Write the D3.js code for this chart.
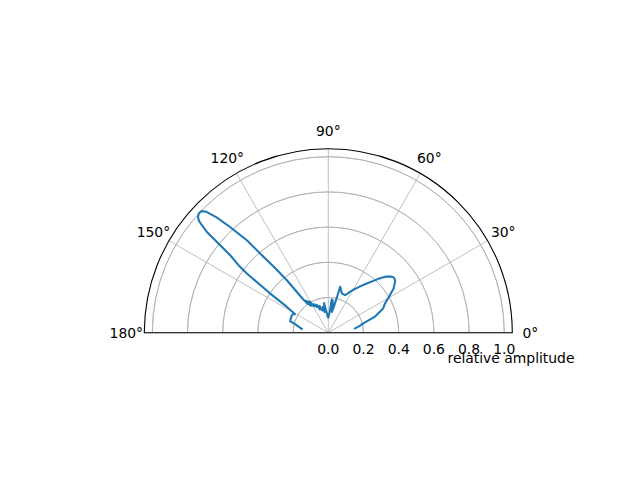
<!DOCTYPE html>
<html>
<head>
<meta charset="utf-8">
<script src="https://cdn.jsdelivr.net/npm/d3@7"></script>
<style>
  body { margin: 0; background: white; }
  text { font-family: "DejaVu Sans", sans-serif; font-size: 13.9px; fill: black; }
</style>
</head>
<body>
<div id="chart"></div>
<script>
// angle in degrees, relative amplitude
var angles = [9, 12, 15, 19, 24, 27, 30, 34, 38, 40, 41.5, 44, 46.5, 49, 52, 55, 57.5, 60, 62, 64,
    66, 69, 71, 73, 75.5, 76.5, 78, 80, 82, 83, 84, 86, 88, 90, 92, 94, 96, 98, 100, 102,
    104, 106, 108, 110, 112, 114, 116, 118, 119.5, 120.5, 121.5, 122.5, 123.5, 124.5, 125.5, 127, 128.3, 129.5, 130.5, 131.4,
    132.9, 134.1, 135.2, 136.2, 137.4, 138.4, 139.2, 140.3, 141.7, 143, 144, 146, 148, 150, 151, 152.5, 154, 156, 160, 163.5,
    164.5, 166, 168, 170, 172]
var amplitude = [0.154, 0.18, 0.206, 0.28, 0.342, 0.36, 0.393, 0.447, 0.483, 0.487, 0.481, 0.46, 0.426, 0.39, 0.355, 0.325, 0.30, 0.28, 0.264, 0.245,
    0.234, 0.235, 0.236, 0.25, 0.27, 0.20, 0.15, 0.12, 0.185, 0.15, 0.19, 0.12, 0.10, 0.085, 0.09, 0.11, 0.13, 0.17, 0.12, 0.15,
    0.13, 0.135, 0.16, 0.14, 0.17, 0.16, 0.18, 0.17, 0.19, 0.205, 0.18, 0.21, 0.185, 0.22, 0.20, 0.24, 0.38, 0.48, 0.568, 0.70,
    0.82, 0.912, 0.975, 0.998, 1.0, 0.99, 0.97, 0.898, 0.712, 0.64, 0.574, 0.40, 0.279, 0.23, 0.217, 0.228, 0.229, 0.229, 0.228, 0.226,
    0.206, 0.19, 0.175, 0.163, 0.152]

var rTicks = [0.0, 0.2, 0.4, 0.6, 0.8, 1.0]
var thetaTicks = [0, 30, 60, 90, 120, 150, 180]

var width = 640, height = 478
var cx = 328.3, cy = 332.7, R = 184

var svg = d3.select("#chart")
    .append("svg")
    .attr("width", width)
    .attr("height", height)

var g = svg.append("g")
    .attr("transform", "translate(" + cx + "," + cy + ")")

var r = d3.scaleLinear().domain([0, 1.0455]).range([0, R])
var rad = function (deg) { return deg * Math.PI / 180 }
// matplotlib theta (ccw from east) -> d3 angle (cw from north)
var toD3 = function (deg) { return Math.PI / 2 - rad(deg) }

var gridColor = "#b0b0b0"

// rings
g.selectAll(".ring")
    .data(rTicks.filter(function (d) { return d > 0 }))
    .enter()
    .append("path")
    .attr("d", function (d) {
        return d3.arc()({innerRadius: r(d), outerRadius: r(d), startAngle: -Math.PI / 2, endAngle: Math.PI / 2})
    })
    .attr("fill", "none")
    .attr("stroke", gridColor)
    .attr("stroke-width", 0.8)

// spokes
g.selectAll(".spoke")
    .data(thetaTicks)
    .enter()
    .append("line")
    .attr("x1", 0).attr("y1", 0)
    .attr("x2", function (d) { return R * Math.cos(rad(d)) })
    .attr("y2", function (d) { return -R * Math.sin(rad(d)) })
    .attr("stroke", gridColor)
    .attr("stroke-width", 0.8)

// data line
var line = d3.lineRadial()
    .angle(function (d, i) { return toD3(angles[i]) })
    .radius(function (d) { return r(d) })

g.append("path")
    .datum(amplitude)
    .attr("d", line)
    .attr("fill", "none")
    .attr("stroke", "#1f77b4")
    .attr("stroke-width", 2.08)
    .attr("stroke-linejoin", "round")
    .attr("stroke-linecap", "square")

// spines
g.append("path")
    .attr("d", d3.arc()({innerRadius: 0, outerRadius: R, startAngle: -Math.PI / 2, endAngle: Math.PI / 2}))
    .attr("fill", "none")
    .attr("stroke", "black")
    .attr("stroke-width", 1.1)

// theta labels
g.selectAll(".tlabel")
    .data(thetaTicks)
    .enter()
    .append("text")
    .attr("x", function (d) { return 202 * Math.cos(rad(d)) })
    .attr("y", function (d) { return -202 * Math.sin(rad(d)) })
    .attr("text-anchor", "middle")
    .attr("dominant-baseline", "central")
    .text(function (d) { return d + "°" })

// r labels
g.selectAll(".rlabel")
    .data(rTicks)
    .enter()
    .append("text")
    .attr("x", function (d) { return r(d) })
    .attr("y", 16)
    .attr("text-anchor", "middle")
    .attr("dominant-baseline", "central")
    .text(function (d) { return d.toFixed(1) })

svg.append("text")
    .attr("x", 511)
    .attr("y", 358)
    .attr("text-anchor", "middle")
    .attr("dominant-baseline", "central")
    .text("relative amplitude")
</script>
</body>
</html>
